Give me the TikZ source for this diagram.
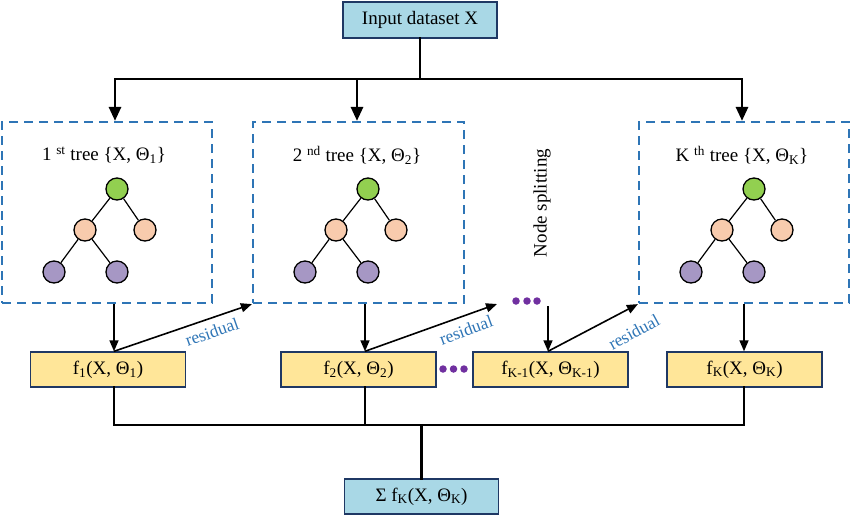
\documentclass[tikz,border=0pt]{standalone}
\usepackage{fontspec}
\setmainfont{Liberation Serif}
\usetikzlibrary{arrows.meta}
\definecolor{inblue}{HTML}{A9D8E6}
\definecolor{navy}{HTML}{1F3864}
\definecolor{fyellow}{HTML}{FFE699}
\definecolor{dashblue}{HTML}{2E75B6}
\definecolor{resblue}{HTML}{2E75B6}
\definecolor{rootgreen}{HTML}{92D050}
\definecolor{midorange}{HTML}{F8CBAD}
\definecolor{leafpurple}{HTML}{A697C4}
\definecolor{dotpurple}{HTML}{7030A0}
\begin{document}
\begin{tikzpicture}[x=1pt,y=-1pt,
  font=\fontsize{19}{21}\selectfont,
  bluebox/.style={draw=navy,line width=1.4pt,fill=inblue,minimum width=154pt,minimum height=36pt,inner sep=0pt},
  fbox/.style={draw=navy,line width=1.4pt,fill=fyellow,minimum width=155pt,minimum height=35pt,inner sep=0pt},
  treebox/.style={draw=dashblue,line width=2.2pt,dash pattern=on 9pt off 6pt,minimum width=210pt,minimum height=181pt,inner sep=0pt},
  tn/.style={circle,draw=black,line width=1.3pt,minimum size=22pt,inner sep=0pt},
  bus/.style={line width=2.8pt,line cap=rect},
  bigarrow/.style={line width=2.8pt,-{Triangle[length=14pt,width=12pt]}},
  thinarrow/.style={line width=1.6pt,-{Triangle[length=11pt,width=9pt]}},
  reslabel/.style={text=resblue,font=\fontsize{17.5}{19}\selectfont,inner sep=0pt},
  dotc/.style={circle,fill=dotpurple,minimum size=7.5pt,inner sep=0pt},
]
\useasboundingbox (0,0) rectangle (850,515);

% input and output
\node[bluebox] (input) at (420,20) {Input dataset X};
\node[bluebox,minimum height=35pt] (sum) at (421.5,496.5) {Σ f\textsubscript{K}(X, Θ\textsubscript{K})};

% tree boxes
\node[treebox] (tb1) at (107,212.5) {};
\node[treebox,minimum width=211pt] (tb2) at (358.5,212.5) {};
\node[treebox] (tbK) at (744,212.5) {};

% titles
\node (t1) at (104,155) {1 \textsuperscript{st} tree \{X, Θ\textsubscript{1}\}};
\node (t2) at (357,155) {2 \textsuperscript{nd} tree \{X, Θ\textsubscript{2}\}};
\node (tK) at (742,155) {K \textsuperscript{th} tree \{X, Θ\textsubscript{K}\}};

% trees
\foreach \i/\rx in {1/117,2/368,K/754}{
  \node[tn,fill=rootgreen] (r\i) at (\rx,189) {};
  \node[tn,fill=midorange] (a\i) at (\rx-32,230) {};
  \node[tn,fill=midorange] (b\i) at (\rx+28,230) {};
  \node[tn,fill=leafpurple] (c\i) at (\rx-63,272) {};
  \node[tn,fill=leafpurple] (d\i) at (\rx,272) {};
  \draw[line width=1.2pt] (r\i) -- (a\i) (r\i) -- (b\i) (a\i) -- (c\i) (a\i) -- (d\i);
}

\node[rotate=90] (split) at (542,203) {Node splitting};

% f boxes
\node[fbox] (f1) at (108,369.5) {f\textsubscript{1}(X, Θ\textsubscript{1})};
\node[fbox] (f2) at (358.5,369.5) {f\textsubscript{2}(X, Θ\textsubscript{2})};
\node[fbox] (fK1) at (550.5,369.5) {f\textsubscript{K-1}(X, Θ\textsubscript{K-1})};
\node[fbox] (fK) at (744.5,369.5) {f\textsubscript{K}(X, Θ\textsubscript{K})};

% dots
\node[dotc] (da1) at (516,301) {};
\node[dotc] (da2) at (527,301) {};
\node[dotc] (da3) at (537,301) {};
\node[dotc] (db1) at (443,369) {};
\node[dotc] (db2) at (453.5,369) {};
\node[dotc] (db3) at (464,369) {};

% top bus
\coordinate (busIn) at (input.south |- 0,79);
\coordinate (busL) at (115,79);
\coordinate (busM) at (357,79);
\coordinate (busR) at (742,79);
\draw[bus] (input.south) -- (busIn);
\draw[bus] (busL) -- (busR);
\draw[bigarrow] (busL) -- (busL |- tb1.north);
\draw[bigarrow] (busM) -- (busM |- tb2.north);
\draw[bigarrow] (busR) -- (busR |- tbK.north);

% down arrows
\coordinate (x1) at (114,0);
\coordinate (x2) at (365,0);
\coordinate (x3) at (548,0);
\coordinate (x4) at (744,0);
\coordinate (dotsend) at (548,306);
\draw[thinarrow] (x1 |- tb1.south) -- (x1 |- f1.north);
\draw[thinarrow] (x2 |- tb2.south) -- (x2 |- f2.north);
\draw[thinarrow] (dotsend) -- (x3 |- fK1.north);
\draw[thinarrow] (x4 |- tbK.south) -- (x4 |- fK.north);

% residual arrows
\coordinate (res2end) at (497,304);
\draw[thinarrow] (x1 |- f1.north) -- (tb2.south west);
\draw[thinarrow] (x2 |- f2.north) -- (res2end);
\draw[thinarrow] (x3 |- fK1.north) -- (tbK.south west);
\node[reslabel,rotate=19.5] (res1) at (212,332) {residual};
\node[reslabel,rotate=20] (res2) at (466,330) {residual};
\node[reslabel,rotate=28.6] (res3) at (634,332) {residual};

% bottom bus
\coordinate (bb) at (0,425);
\draw[bus] (x1 |- f1.south) -- (x1 |- bb) -- (x4 |- bb) -- (x4 |- fK.south);
\draw[bus] (x2 |- f2.south) -- (x2 |- bb);
\draw[bus] (sum.north) -- (sum.north |- bb);
\end{tikzpicture}
\end{document}
